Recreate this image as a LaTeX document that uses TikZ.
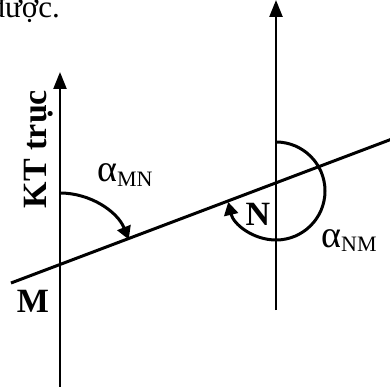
\documentclass[tikz,border=0pt]{standalone}
\usepackage{fontspec}
\setmainfont{Liberation Serif}
\usetikzlibrary{arrows.meta,calc}
\begin{document}
\begin{tikzpicture}[x=1pt,y=-1pt,
  axis/.style={line width=2.4pt,-{Triangle[width=13pt,length=17pt]}},
  bearing/.style={line width=3pt,-{Triangle[width=14pt,length=13pt]}},
  ptlabel/.style={font=\bfseries\fontsize{34}{34}\selectfont, inner sep=0pt},
  anglabel/.style={font=\fontsize{38}{38}\selectfont, inner sep=0pt, anchor=base west}]
\useasboundingbox (0,0) rectangle (390,387);
\clip (0,0) rectangle (390,387);
\coordinate (M) at (60,265);
\coordinate (N) at (276,183);
\coordinate (Mb) at (60,390);
\coordinate (Mt) at (60,72);
\coordinate (Nb) at (276,310);
\coordinate (Nt) at (276,0);
\coordinate (L1) at (11,283);
\coordinate (L2) at (392,139);
\coordinate (C) at (276,191);
\draw[axis] (Mb) -- (Mt);
\draw[axis] (Nb) -- (Nt);
\draw[line width=3pt] (L1) -- (L2);
\draw[bearing] ($(M)+(0,-72)$) arc[start angle=-90, end angle=-21.8, radius=74];
\draw[bearing] ($(C)+(0,-49)$) arc[start angle=-90, end angle=167, radius=49];
\node[font=\fontsize{31}{31}\selectfont, anchor=base east, inner sep=0pt] (top) at (60,18) {được.};
\node[ptlabel, rotate=90] (kt) at (38.5,149) {KT trục};
\node[ptlabel, anchor=base] (m) at (33,312) {M};
\node[ptlabel, anchor=base] (n) at (258,225) {N};
\node[anglabel] (amn) at (97,182) {α\raisebox{-5pt}{\fontsize{22}{22}\selectfont MN}};
\node[anglabel] (anm) at (321,247) {α\raisebox{-4pt}{\fontsize{22}{22}\selectfont NM}};
\end{tikzpicture}
\end{document}
